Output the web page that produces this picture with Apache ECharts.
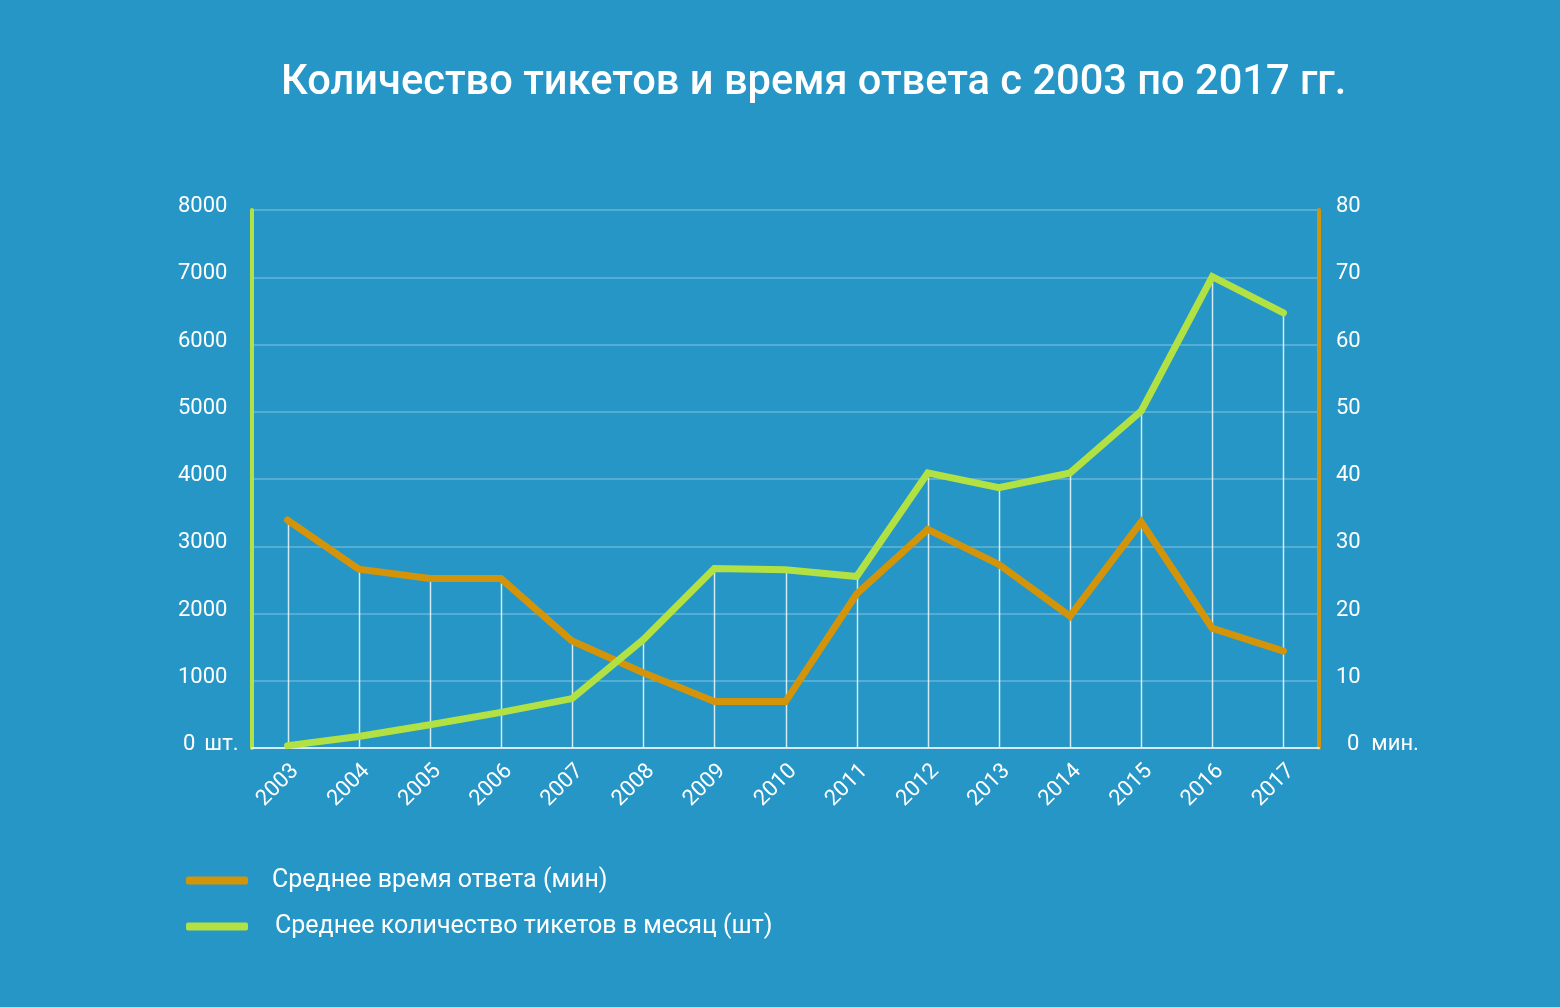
<!DOCTYPE html>
<html>
<head>
<meta charset="utf-8">
<script src="https://cdn.jsdelivr.net/npm/echarts@6/dist/echarts.min.js"></script>
<style>
html,body{margin:0;padding:0;background:#2596c6;}
#c{width:1560px;height:1007px;}
</style>
</head>
<body>
<div id="c"></div>
<script>
var years = ['2003','2004','2005','2006','2007','2008','2009','2010','2011','2012','2013','2014','2015','2016','2017'];
var tickets = [35, 170, 345, 530, 735, 1610, 2670, 2650, 2550, 4090, 3870, 4090, 5010, 7010, 6470];
var minutes = [33.9, 26.6, 25.2, 25.2, 15.9, 11.2, 6.9, 6.9, 22.9, 32.5, 27.3, 19.6, 33.6, 17.8, 14.4];
var titleText = 'Количество тикетов и время ответа с 2003 по 2017 гг.';
var nameTime = 'Среднее время ответа (мин)';
var nameTickets = 'Среднее количество тикетов в месяц (шт)';

var FONT = 'Roboto';
var GREEN = '#b2e143';
var ORANGE = '#d39409';

var chart = echarts.init(document.getElementById('c'), null, {renderer:'canvas'});

var dropData = years.map(function(y, i){ return [i, Math.max(tickets[i], minutes[i] * 100)]; });

chart.setOption({
  backgroundColor: '#2596c6',
  animation: false,
  title: {
    text: titleText,
    left: 276,
    top: 58,
    textStyle: {color:'#ffffff', fontFamily: FONT, fontSize: 41.6, fontWeight: 500}
  },
  legend: {
    orient: 'vertical',
    left: 181,
    top: 863,
    itemGap: 21,
    itemWidth: 62,
    itemHeight: 8,
    icon: 'roundRect',
    data: [
      {name: nameTime, itemStyle:{color: ORANGE}},
      {name: nameTickets, itemStyle:{color: GREEN}, textStyle:{padding:[0,0,0,22]}}
    ],
    textStyle: {color:'#ffffff', fontFamily: FONT, fontSize: 25, padding:[0,0,0,19]}
  },
  grid: {left: 252, right: 241, top: 210, bottom: 259},
  xAxis: {
    type: 'category',
    data: years,
    boundaryGap: true,
    axisLine: {show: true, lineStyle: {color:'rgba(255,255,255,0.75)', width: 2}},
    axisTick: {show: false},
    axisLabel: {rotate: 45, color:'#ffffff', fontFamily: FONT, fontSize: 22, margin: 12, interval: 0, verticalAlign: 'top'}
  },
  yAxis: [
    {
      type: 'value', min: 0, max: 8000, interval: 1000, position: 'left',
      axisLine: {show: true, lineStyle: {color: GREEN, width: 4}},
      axisTick: {show: false},
      splitLine: {show: true, lineStyle: {color:'rgba(255,255,255,0.3)', width: 1.5}},
      axisLabel: {
        color:'#ffffff', fontFamily: FONT, fontSize: 22, align: 'left', margin: 74,
        padding: [0,0,7,0],
        formatter: function(v){ return v === 0 ? '{z|0}{u|шт.}' : String(v); },
        rich: {
          z: {color:'#ffffff', fontFamily: FONT, fontSize: 22, padding:[0,0,0,5]},
          u: {color:'#ffffff', fontFamily: FONT, fontSize: 22, padding:[0,0,0,9]}
        }
      }
    },
    {
      type: 'value', min: 0, max: 80, interval: 10, position: 'right',
      axisLine: {show: true, lineStyle: {color: ORANGE, width: 4}},
      axisTick: {show: false},
      splitLine: {show: false},
      axisLabel: {
        color:'#ffffff', fontFamily: FONT, fontSize: 22, align: 'left', margin: 17,
        padding: [0,0,7,0],
        formatter: function(v){ return v === 0 ? '{z|0}{u|мин.}' : String(v); },
        rich: {
          z: {color:'#ffffff', fontFamily: FONT, fontSize: 22, padding:[0,0,0,11]},
          u: {color:'#ffffff', fontFamily: FONT, fontSize: 22, padding:[0,0,0,12]}
        }
      }
    }
  ],
  series: [
    {
      type: 'custom',
      name: 'drop',
      yAxisIndex: 0,
      z: 1,
      silent: true,
      data: dropData,
      renderItem: function(params, api){
        var top = api.coord([api.value(0), api.value(1)]);
        var bot = api.coord([api.value(0), 0]);
        return {
          type: 'line',
          shape: {x1: Math.round(top[0]) + 0.5, y1: top[1], x2: Math.round(bot[0]) + 0.5, y2: bot[1]},
          style: {stroke: 'rgba(255,255,255,0.8)', lineWidth: 1.5}
        };
      }
    },
    {
      type: 'line',
      name: nameTime,
      yAxisIndex: 1,
      data: minutes,
      showSymbol: false,
      z: 3,
      lineStyle: {color: ORANGE, width: 7, cap: 'round', join: 'miter'},
      itemStyle: {color: ORANGE}
    },
    {
      type: 'line',
      name: nameTickets,
      yAxisIndex: 0,
      data: tickets,
      showSymbol: false,
      z: 4,
      lineStyle: {color: GREEN, width: 7, cap: 'round', join: 'miter'},
      itemStyle: {color: GREEN}
    }
  ]
});
</script>
</body>
</html>
